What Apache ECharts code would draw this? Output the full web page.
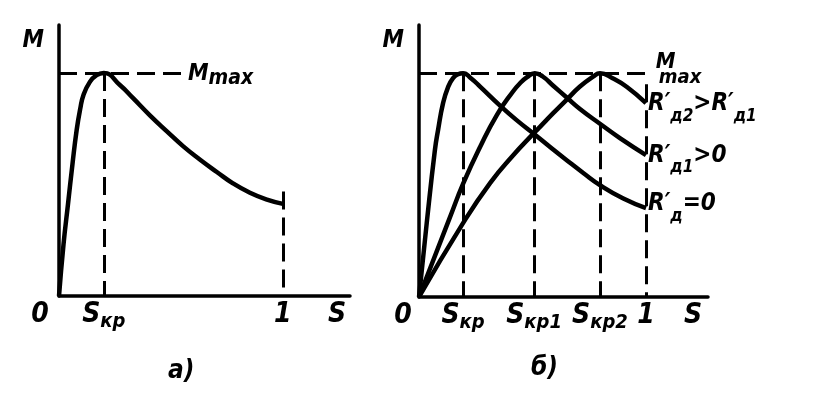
<!DOCTYPE html>
<html>
<head>
<meta charset="utf-8">
<script src="https://cdn.jsdelivr.net/npm/echarts@6/dist/echarts.min.js"></script>
<style>
  html, body { margin: 0; background: #fff; }
  #chart { width: 823px; height: 398px; }
</style>
</head>
<body>
<div id="chart"></div>
<script>
  // а) механическая характеристика M(s)
  const slipA = [0, 0.02, 0.04, 0.06, 0.079, 0.095, 0.109, 0.138, 0.168, 0.2, 0.272, 0.33, 0.406, 0.482, 0.554, 0.629, 0.705, 0.777, 0.853, 0.929, 1.0]
  const torqueA = [0, 0.23, 0.41, 0.59, 0.745, 0.84, 0.9, 0.96, 0.99, 1.0, 0.946, 0.888, 0.81, 0.738, 0.672, 0.612, 0.556, 0.505, 0.463, 0.432, 0.413]

  // б) характеристики при разных R'д
  const slipB0 = [0, 0.034, 0.07, 0.084, 0.106, 0.128, 0.15, 0.172, 0.194, 0.23, 0.269, 0.357, 0.43, 0.507, 0.58, 0.652, 0.725, 0.797, 0.9, 1.0]
  const torqueB0 = [0, 0.33, 0.656, 0.746, 0.866, 0.9375, 0.978, 0.995, 1.0, 0.976, 0.94, 0.855, 0.79, 0.728, 0.668, 0.61, 0.553, 0.5, 0.44, 0.397]
  const slipB1 = [0, 0.137, 0.194, 0.269, 0.344, 0.414, 0.445, 0.476, 0.51, 0.545, 0.59, 0.652, 0.709, 0.797, 0.885, 1.0]
  const torqueB1 = [0, 0.358, 0.505, 0.67, 0.815, 0.918, 0.955, 0.982, 1.0, 0.985, 0.945, 0.89, 0.84, 0.774, 0.71, 0.634]
  const slipB2 = [0, 0.194, 0.313, 0.414, 0.507, 0.533, 0.59, 0.652, 0.709, 0.767, 0.797, 0.855, 0.916, 1.0]
  const torqueB2 = [0, 0.33, 0.509, 0.632, 0.733, 0.76, 0.82, 0.883, 0.94, 0.984, 1.0, 0.976, 0.938, 0.866]

  const mMax = 1
  const skA = 0.2
  const skB = [0.194, 0.507, 0.797]
  const ticksA = [0, skA, 1]
  const tickLabelsA = ['{z|0}', '{s|S}{k|кр}', '{n|1}']
  const ticksB = [0, skB[0], skB[1], skB[2], 1]
  const tickLabelsB = ['{z|0}', '{s|S}{k|кр}', '{s|S}{k|кр1}', '{s|S}{k|кр2}', '{n|1}']
  const curveLabelsB = ['{r|R′}{d|д}{r|=0}', '{r|R′}{d|д1}{r|>0}', '{r|R′}{d|д2}{r|>R′}{d|д1}']

  const FONT = '"Liberation Sans Narrow", "DejaVu Sans Condensed", "DejaVu Sans", sans-serif'
  function txt(size, extra) {
    return Object.assign({ fontSize: size, fontFamily: FONT, fontStyle: 'italic', fontWeight: 'bold', color: '#000' }, extra || {})
  }
  function zip(xs, ys) {
    return xs.map((x, i) => [x, ys[i]])
  }
  function pick(ticks, labels) {
    return function(v) {
      let best = 0
      ticks.forEach((t, i) => { if (Math.abs(t - v) < Math.abs(ticks[best] - v)) best = i })
      return labels[best]
    }
  }

  const guide = { type: [18, 8], width: 3, color: '#000' }
  const curve = { color: '#000', width: 4.5 }
  const rRich = { r: txt(24, { padding: [0, 0, 9, 0] }), d: txt(17, { padding: [16, 0, 0, 0] }) }

  function xAxis(idx, max, ticks, labels, zeroPad, nameGap) {
    return {
      type: 'value', gridIndex: idx, min: 0, max: max,
      axisLine: { lineStyle: { color: '#000', width: 3.5 } },
      axisTick: { show: false },
      splitLine: { show: false },
      axisLabel: {
        customValues: ticks,
        formatter: pick(ticks, labels),
        margin: 5,
        verticalAlign: 'top',
        rich: {
          z: txt(28, { padding: [0, zeroPad, 0, 0] }),
          n: txt(28),
          s: txt(28, { padding: [0, 0, 3, 0] }),
          k: txt(20, { padding: [11, 0, 0, 0] })
        }
      },
      name: 'S', nameLocation: 'end', nameGap: nameGap,
      nameTextStyle: txt(28, { align: 'center', verticalAlign: 'top', padding: [5, 0, 0, 0] })
    }
  }
  function yAxis(idx) {
    return {
      type: 'value', gridIndex: idx, min: 0, max: 1.215,
      axisLine: { lineStyle: { color: '#000', width: 3.5 } },
      axisTick: { show: false },
      axisLabel: { show: false },
      splitLine: { show: false },
      name: 'M', nameLocation: 'end', nameGap: -16,
      nameTextStyle: txt(24, { align: 'right', verticalAlign: 'middle', padding: [0, 15, 0, 0] })
    }
  }

  const chart = echarts.init(document.getElementById('chart'))
  const endA = torqueA[torqueA.length - 1]

  const option = {
    backgroundColor: '#fff',
    animation: false,
    title: [
      { text: 'а)', left: 168, top: 358, padding: 0, textStyle: txt(26) },
      { text: 'б)', left: 531, top: 355, padding: 0, textStyle: txt(26) }
    ],
    grid: [
      { left: 59, top: 25, width: 291, height: 271 },
      { left: 419, top: 25, width: 289, height: 272 }
    ],
    xAxis: [
      xAxis(0, 1.3, ticksA, tickLabelsA, 38, -13),
      xAxis(1, 1.273, ticksB, tickLabelsB, 32, -15)
    ],
    yAxis: [yAxis(0), yAxis(1)],
    series: [
      {
        name: 'а', type: 'line', xAxisIndex: 0, yAxisIndex: 0,
        data: zip(slipA, torqueA), showSymbol: false, smooth: 0.5,
        lineStyle: curve,
        markLine: {
          silent: true, symbol: ['none', 'none'], lineStyle: guide, label: { show: false },
          data: [
            [{ coord: [0, mMax], label: {
                show: true, position: 'end', distance: 3, offset: [0, 3],
                formatter: '{m|M}{x|max}',
                rich: { m: txt(23, { padding: [0, 0, 3, 0] }), x: txt(21, { padding: [5, 0, 0, 0] }) }
              } }, { coord: [0.5625, mMax] }],
            [{ coord: [skA, mMax] }, { coord: [skA, 0] }],
            [{ coord: [1, endA + 0.055] }, { coord: [1, 0] }]
          ]
        }
      },
      {
        name: curveLabelsB[0], type: 'line', xAxisIndex: 1, yAxisIndex: 1,
        data: zip(slipB0, torqueB0), showSymbol: false, smooth: 0.5,
        lineStyle: curve,
        endLabel: { show: true, distance: 2, offset: [0, 0], formatter: curveLabelsB[0], rich: rRich },
        markLine: {
          silent: true, symbol: ['none', 'none'], lineStyle: guide, label: { show: false },
          data: [
            [{ coord: [0, mMax], label: {
                show: true, position: 'end', distance: 3, offset: [0, -4],
                formatter: '{m|M}\n{x|max}',
                rich: { m: txt(22, { lineHeight: 18 }), x: txt(20, { lineHeight: 14, padding: [0, 0, 0, 3] }) }
              } }, { coord: [1.03, mMax] }],
            [{ coord: [skB[0], mMax] }, { coord: [skB[0], 0] }],
            [{ coord: [skB[1], mMax] }, { coord: [skB[1], 0] }],
            [{ coord: [skB[2], mMax] }, { coord: [skB[2], 0] }],
            [{ coord: [1, 0.95] }, { coord: [1, 0] }]
          ]
        }
      },
      {
        name: curveLabelsB[1], type: 'line', xAxisIndex: 1, yAxisIndex: 1,
        data: zip(slipB1, torqueB1), showSymbol: false, smooth: 0.5,
        lineStyle: curve,
        endLabel: { show: true, distance: 2, offset: [0, 5], formatter: curveLabelsB[1], rich: rRich }
      },
      {
        name: curveLabelsB[2], type: 'line', xAxisIndex: 1, yAxisIndex: 1,
        data: zip(slipB2, torqueB2), showSymbol: false, smooth: 0.5,
        lineStyle: curve,
        endLabel: { show: true, distance: 2, offset: [0, 5], formatter: curveLabelsB[2], rich: rRich }
      }
    ]
  }

  chart.setOption(option, true)
</script>
</body>
</html>
